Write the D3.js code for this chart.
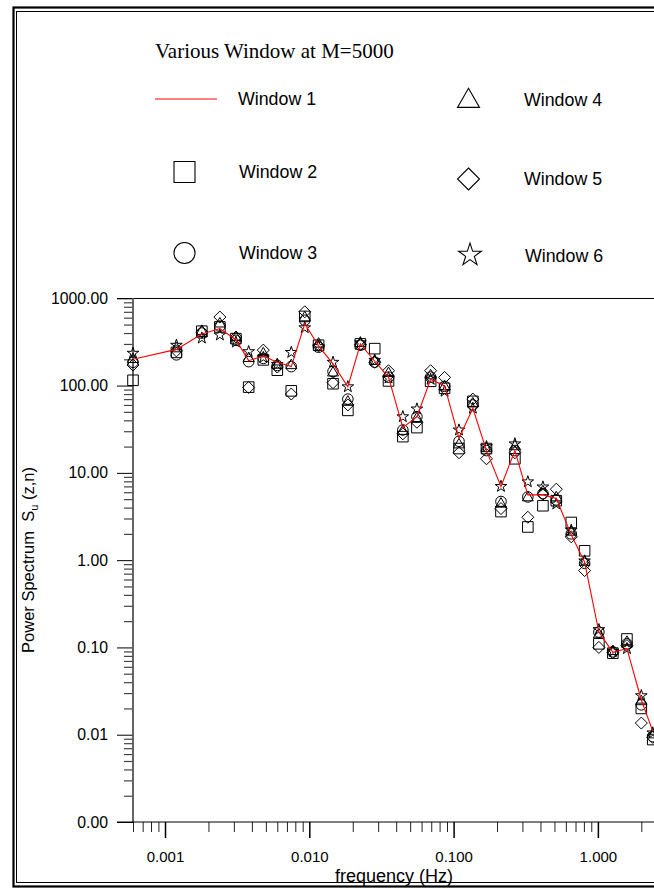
<!DOCTYPE html>
<html>
<head>
<meta charset="utf-8">
<script src="https://cdn.jsdelivr.net/npm/d3@7"></script>
<style>
  html, body { margin: 0; padding: 0; background: #fff; }
  svg text { white-space: pre; }
</style>
</head>
<body>
<svg id="chart" width="654" height="889"></svg>
<script>
// Frequencies (Hz) of the spectral estimates
const freq = [0.0006, 0.0012, 0.0018, 0.0024, 0.0031, 0.0038, 0.0048, 0.0060, 0.0075, 0.0093,
  0.0116, 0.0146, 0.0185, 0.0226, 0.0284, 0.0354, 0.0445, 0.0557, 0.0693, 0.0866,
  0.109, 0.136, 0.169, 0.213, 0.266, 0.327, 0.416, 0.515, 0.654, 0.809,
  1.016, 1.27, 1.59, 2.0, 2.40];

// Power spectrum estimates for each lag window
const window1 = [200, 260, 390, 450, 335, 193, 218, 185, 165, 510, 285, 177, 97, 300, 190, 125, 33, 44, 118, 99,
  25, 55, 18, 7, 18, 5.6, 5.6, 5.1, 1.95, 0.95, 0.15, 0.088, 0.097, 0.025, 0.011];
const window2 = [115, 240, 420, 470, 345, 96, 197, 150, 87, 620, 290, 105, 52, 300, 265, 113, 26, 33, 112, 93,
  19, 66, 19, 3.6, 14.5, 2.4, 4.2, 4.8, 2.7, 1.28, 0.11, 0.086, 0.125, 0.020, 0.0088];
const window3 = [185, 225, 400, 480, 330, 188, 205, 170, 165, 560, 275, 145, 70, 290, 185, 125, 31, 44, 125, 98,
  23, 60, 18, 4.7, 18, 5.3, 5.8, 4.9, 2.0, 0.92, 0.15, 0.089, 0.11, 0.022, 0.0095];
const window4 = [200, 265, 420, 510, 355, 205, 232, 172, 170, 600, 300, 140, 65, 305, 190, 138, 30, 42, 130, 97,
  21, 62, 19, 4.4, 20, 5.2, 6.1, 5.2, 2.1, 0.95, 0.14, 0.09, 0.115, 0.024, 0.010];
const window5 = [172, 250, 410, 610, 360, 95, 255, 163, 80, 700, 285, 108, 60, 295, 185, 148, 28, 38, 148, 124,
  17, 70, 14.5, 3.9, 17, 3.1, 5.7, 6.5, 1.85, 0.76, 0.10, 0.087, 0.105, 0.0136, 0.0093];
const window6 = [235, 290, 350, 380, 315, 245, 210, 175, 240, 460, 280, 185, 97, 310, 195, 122, 44, 54, 118, 86,
  31, 55, 20, 7, 21.5, 7.9, 6.9, 4.4, 2.2, 0.98, 0.16, 0.09, 0.097, 0.028, 0.0105];

const chartTitle = "Various Window at M=5000";
const legendNames = ["Window 1", "Window 2", "Window 3", "Window 4", "Window 5", "Window 6"];

const yTickValues = [0.001, 0.01, 0.1, 1, 10, 100, 1000];
const yTickLabels = ["0.00", "0.01", "0.10", "1.00", "10.00", "100.00", "1000.00"];
const xTickValues = [0.001, 0.01, 0.1, 1];
const xTickLabels = ["0.001", "0.010", "0.100", "1.000"];

const SANS = "'Liberation Sans', Arial, Helvetica, sans-serif";
const SERIF = "'Liberation Serif', 'Times New Roman', Times, serif";

const svg = d3.select("#chart");
svg.append("rect").attr("width", 654).attr("height", 889).attr("fill", "#fff");

// Double frame around the whole figure
svg.append("rect").attr("x", 13.5).attr("y", 7.5).attr("width", 720).attr("height", 879)
  .attr("fill", "none").attr("stroke", "#000").attr("stroke-width", 2.2);
svg.append("rect").attr("x", 16.5).attr("y", 11.5).attr("width", 720).attr("height", 871)
  .attr("fill", "none").attr("stroke", "#000").attr("stroke-width", 1);

// Scales
const x = d3.scaleLog().domain([0.0006, 2.5]).range([133, 655.3]);
const y = d3.scaleLog().domain([0.001, 1000]).range([822, 298.3]);

// Minor tick positions (2..9 within each decade)
function minorTicks(lo, hi, e0, e1) {
  const out = [];
  for (let e = e0; e <= e1; e++) {
    for (let m = 2; m <= 9; m++) {
      const v = m * Math.pow(10, e);
      if (v >= lo * 0.999 && v <= hi * 1.001) out.push(+v.toPrecision(6));
    }
  }
  return out;
}
const yMinor = minorTicks(0.001, 1000, -3, 2);
const xMinor = minorTicks(0.0006, 2.5, -4, 0);

// Top edge of the plotting area
svg.append("line").attr("x1", 117).attr("x2", 700).attr("y1", 298.5).attr("y2", 298.5)
  .attr("stroke", "#000").attr("stroke-width", 1);

// Y axis
const yMinorAxis = svg.append("g").attr("transform", "translate(133,0)")
  .call(d3.axisLeft(y).tickValues(yMinor).tickSize(9).tickFormat(""));
yMinorAxis.select(".domain").remove();
yMinorAxis.selectAll(".tick line").attr("stroke", "#444").attr("stroke-width", 1.2);

const yAxis = svg.append("g").attr("transform", "translate(133,0)")
  .call(d3.axisLeft(y).tickValues(yTickValues).tickSize(16).tickPadding(9)
    .tickFormat((d, i) => yTickLabels[i]));
yAxis.select(".domain").remove();
yAxis.selectAll(".tick line").attr("stroke", "#000").attr("stroke-width", 1);
yAxis.selectAll(".tick text").attr("font-family", SANS).attr("font-size", 15.8).attr("fill", "#000");
svg.append("line").attr("x1", 133).attr("x2", 133).attr("y1", 298).attr("y2", 822)
  .attr("stroke", "#555").attr("stroke-width", 1.8);

// X axis
const xMinorAxis = svg.append("g").attr("transform", "translate(0,822)")
  .call(d3.axisBottom(x).tickValues(xMinor).tickSize(10).tickFormat(""));
xMinorAxis.select(".domain").remove();
xMinorAxis.selectAll(".tick line").attr("stroke", "#222").attr("stroke-width", 1);

const xAxis = svg.append("g").attr("transform", "translate(0,822)")
  .call(d3.axisBottom(x).tickValues(xTickValues).tickSize(16).tickPadding(13.5)
    .tickFormat((d, i) => xTickLabels[i]));
xAxis.select(".domain").remove();
xAxis.selectAll(".tick line").attr("stroke", "#000").attr("stroke-width", 1.5);
xAxis.selectAll(".tick text").attr("font-family", SANS).attr("font-size", 15).attr("fill", "#000");
svg.append("line").attr("x1", 117).attr("x2", 700).attr("y1", 822).attr("y2", 822)
  .attr("stroke", "#000").attr("stroke-width", 1);

// Axis titles
svg.append("text").attr("x", 394).attr("y", 882).attr("text-anchor", "middle")
  .attr("font-family", SANS).attr("font-size", 18).attr("fill", "#000")
  .text("frequency (Hz)");

const yTitle = svg.append("text").attr("transform", "translate(33.5,560) rotate(-90)")
  .attr("text-anchor", "middle").attr("font-family", SANS).attr("font-size", 16.5).attr("fill", "#000");
yTitle.append("tspan").text("Power Spectrum  S");
yTitle.append("tspan").attr("font-size", 11).attr("dy", 4).text("u");
yTitle.append("tspan").attr("dy", -4).text(" (z,n)");

// Marker shapes
const diamondSym = {
  draw(ctx, size) {
    const r = Math.sqrt(size / 2);
    ctx.moveTo(0, -r); ctx.lineTo(r, 0); ctx.lineTo(0, r); ctx.lineTo(-r, 0); ctx.closePath();
  }
};
const markerSeries = [
  { values: window2, type: d3.symbolSquare, size: 112, legendSize: 440 },
  { values: window3, type: d3.symbolCircle, size: 88, legendSize: 350 },
  { values: window4, type: d3.symbolTriangle, size: 52, legendSize: 210 },
  { values: window5, type: diamondSym, size: 72, legendSize: 242 },
  { values: window6, type: d3.symbolStar, size: 42, legendSize: 160 }
];

const plot = svg.append("g");
markerSeries.forEach(s => {
  const sym = d3.symbol().type(s.type).size(s.size);
  plot.append("g").selectAll("path")
    .data(freq.map((f, i) => [f, s.values[i]]))
    .join("path")
    .attr("transform", d => `translate(${x(d[0])},${y(d[1])})`)
    .attr("d", sym)
    .attr("fill", "none")
    .attr("stroke", "#000")
    .attr("stroke-width", 1);
});

// Window 1 drawn as a line
const line = d3.line().x(d => x(d[0])).y(d => y(d[1]));
plot.append("path")
  .datum(freq.map((f, i) => [f, window1[i]]))
  .attr("d", line)
  .attr("fill", "none")
  .attr("stroke", "#ff0000")
  .attr("stroke-width", 1.1);

// Legend
svg.append("text").attr("x", 155).attr("y", 58)
  .attr("font-family", SERIF).attr("font-size", 21).attr("fill", "#000")
  .text(chartTitle);

const legend = svg.append("g");
legend.append("line").attr("x1", 155).attr("x2", 217).attr("y1", 99).attr("y2", 99)
  .attr("stroke", "#ff0000").attr("stroke-width", 1);

const legendPos = [
  { mx: 184.5, my: 172, tx: 239, ty: 178 },
  { mx: 184.5, my: 253, tx: 239, ty: 259 },
  { mx: 468.5, my: 101, tx: 524, ty: 106 },
  { mx: 468.5, my: 179, tx: 524, ty: 185 },
  { mx: 470, my: 255, tx: 525, ty: 262 }
];
legend.append("text").attr("x", 238).attr("y", 105)
  .attr("font-family", SANS).attr("font-size", 17.8).attr("fill", "#000").text(legendNames[0]);
markerSeries.forEach((s, i) => {
  const p = legendPos[i];
  legend.append("path")
    .attr("transform", `translate(${p.mx},${p.my})`)
    .attr("d", d3.symbol().type(s.type).size(s.legendSize))
    .attr("fill", "none").attr("stroke", "#000").attr("stroke-width", 1.1);
  legend.append("text").attr("x", p.tx).attr("y", p.ty)
    .attr("font-family", SANS).attr("font-size", 17.8).attr("fill", "#000").text(legendNames[i + 1]);
});
</script>
</body>
</html>
